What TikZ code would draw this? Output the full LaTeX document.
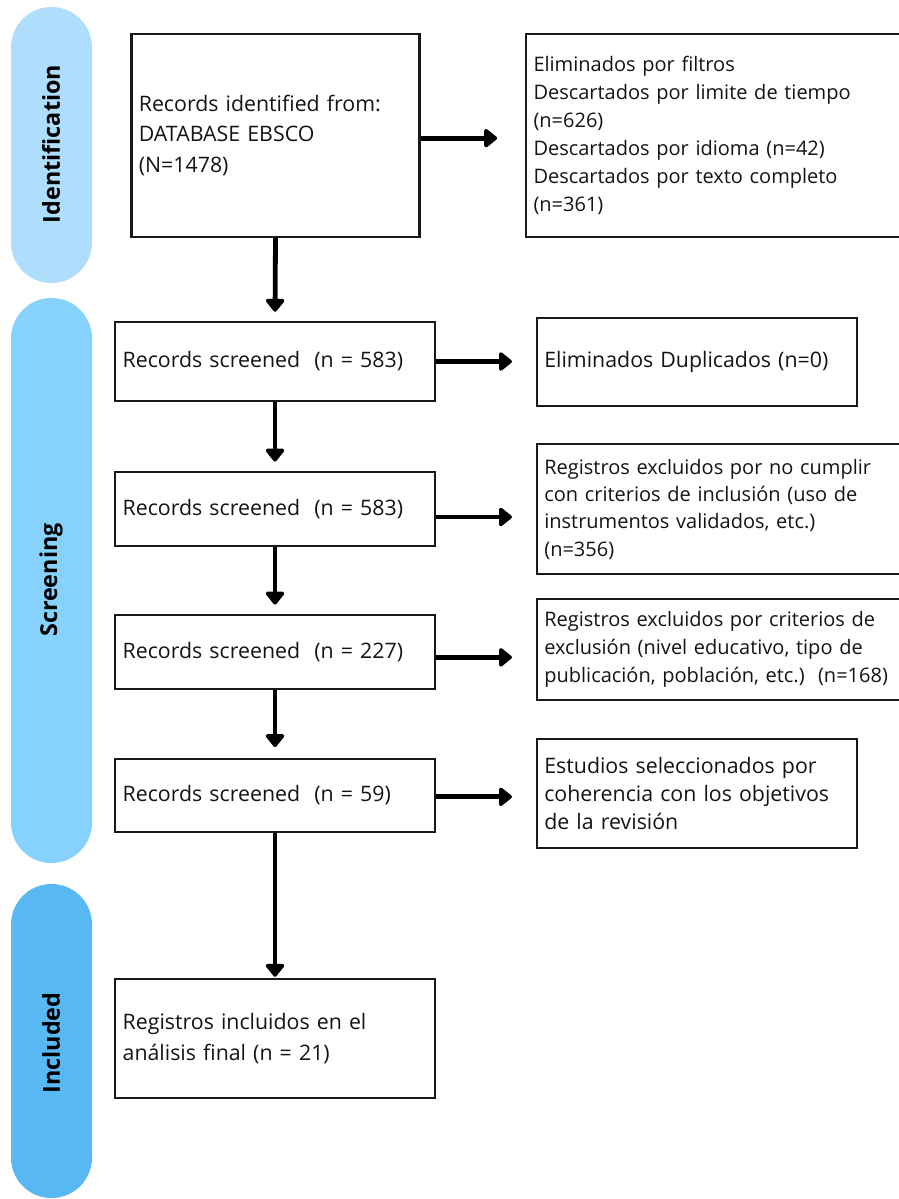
\documentclass[tikz,border=0pt]{standalone}
\usepackage{fontspec}
\setmainfont{Open Sans}
\usetikzlibrary{arrows.meta,calc}
\definecolor{idblue}{RGB}{174,222,251}
\definecolor{scblue}{RGB}{135,210,252}
\definecolor{inblue}{RGB}{88,184,241}
\definecolor{txt}{RGB}{20,20,20}
\tikzset{
  pill/.style={rounded corners=30.3pt},
  phase/.style={rotate=90, font=\fontsize{17.5}{19}\selectfont\bfseries, text=black},
  flowbox/.style={draw=black!90, line width=1.6pt, fill=white, align=left, inner xsep=5.5pt, inner ysep=0pt,
     text=txt, font=\fontsize{16}{23}\selectfont},
  smalltext/.style={font=\fontsize{15}{21}\selectfont},
  arr/.style={line width=3.6pt, -{Triangle[width=16pt,length=10.5pt,round]}},
}
\begin{document}
\begin{tikzpicture}[x=0.75pt,y=-0.75pt]
\useasboundingbox (0,0) rectangle (899,1199);
% phase pills
\fill[idblue,pill] (11,7) rectangle (92,283);
\fill[scblue,pill] (11,298) rectangle (92,863);
\fill[inblue,pill] (11,884) rectangle (92,1198);
\node[phase] (pid) at (51,144) {Identification};
\node[phase] (psc) at (51,580) {Screening};
\node[phase] (pin) at (51,1043) {Included};
% main boxes
\node[flowbox, text width=205pt, minimum height=152pt] (b1) at (275.5,135.5)
  {Records identified from:\\DATABASE EBSCO\\(N=1478)};
\node[flowbox, text width=228.5pt, minimum height=59pt] (b2) at (275,361.5)
  {Records screened\ \ (n = 583)};
\node[flowbox, text width=228.5pt, minimum height=55.5pt] (b3) at (275,509)
  {Records screened\ \ (n = 583)};
\node[flowbox, text width=228.5pt, minimum height=55.5pt] (b4) at (275,652)
  {Records screened\ \ (n = 227)};
\node[flowbox, text width=228.5pt, minimum height=55pt] (b5) at (275,795.5)
  {Records screened\ \ (n = 59)};
\node[flowbox, text width=228.5pt, minimum height=89pt] (b6) at (275,1038.5)
  {Registros incluidos en el\\análisis final (n = 21)};
% right boxes
\node[flowbox, smalltext, text width=273pt, minimum height=152pt] (r1) at (715.5,135.5)
  {Eliminados por filtros\\Descartados por limite de tiempo\\(n=626)\\Descartados por idioma (n=42)\\Descartados por texto completo\\(n=361)};
\node[flowbox, text width=229pt, minimum height=66pt] (r2) at (697,362)
  {Eliminados Duplicados (n=0)};
\node[flowbox, font=\fontsize{15}{20.5}\selectfont, text width=265pt, minimum height=97.5pt] (r3) at (721,509)
  {Registros excluidos por no cumplir\\con criterios de inclusión (uso de\\instrumentos validados, etc.)\\(n=356)};
\node[flowbox, smalltext, text width=265pt, minimum height=76pt] (r4) at (721,649.5)
  {Registros excluidos por criterios de\\exclusión (nivel educativo, tipo de\\publicación, población, etc.)\ \ (n=168)};
\node[flowbox, font=\fontsize{16}{21}\selectfont, text width=229pt, minimum height=82pt] (r5) at (697,793.5)
  {Estudios seleccionados por\\coherencia con los objetivos\\de la revisión};
% vertical arrows
\draw[arr, shorten >=7pt] (b1.south) -- (b2.north);
\draw[arr, shorten >=7pt] (b2.south) -- (b3.north);
\draw[arr, shorten >=7pt] (b3.south) -- (b4.north);
\draw[arr, shorten >=8pt] (b4.south) -- (b5.north);
\draw[arr, shorten >=1pt] (b5.south) -- (b6.north);
% horizontal arrows
\draw[arr, shorten >=21pt] ([yshift=-2pt]b1.east) -- ([yshift=-2pt]b1.east -| r1.west);
\draw[arr, shorten >=18pt] (b2.east) -- (b2.east -| r2.west);
\draw[arr, shorten >=18pt] ([yshift=-6pt]b3.east) -- ([yshift=-6pt]b3.east -| r3.west);
\draw[arr, shorten >=18pt] ([yshift=-4pt]b4.east) -- ([yshift=-4pt]b4.east -| r4.west);
\draw[arr, shorten >=18pt] ([yshift=-1pt]b5.east) -- ([yshift=-1pt]b5.east -| r5.west);
\end{tikzpicture}
\end{document}
